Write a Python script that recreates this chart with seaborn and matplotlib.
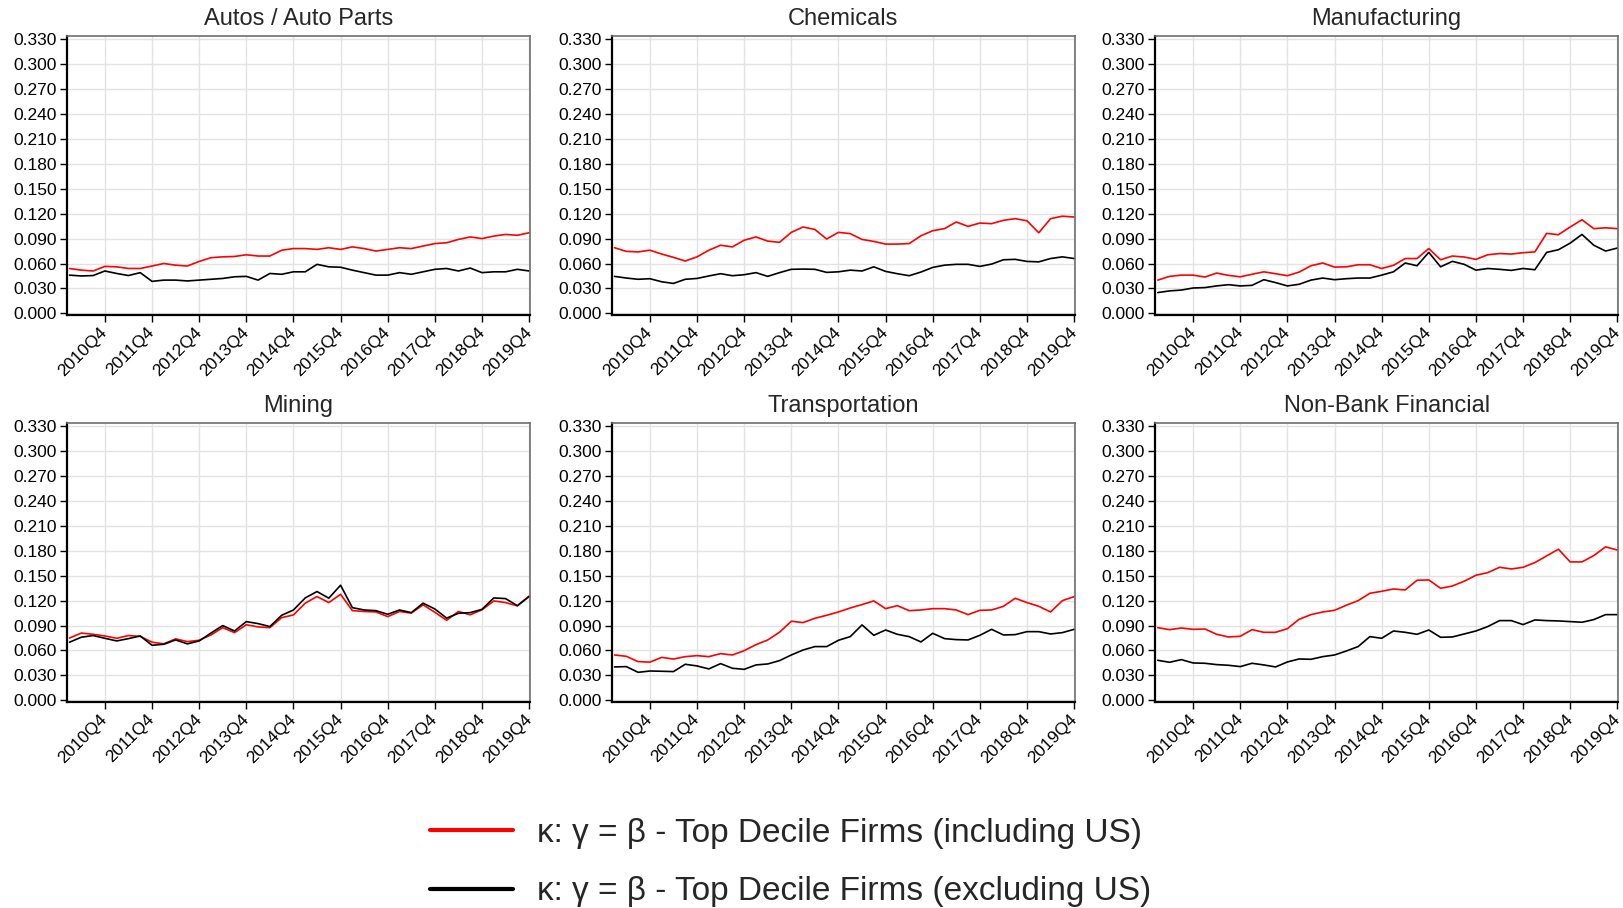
# Importing libraries
import pandas as pd
import matplotlib
matplotlib.use("Agg")
import matplotlib.pyplot as plt
from matplotlib.lines import Line2D
import seaborn as sns

# Quarters and tick labels
quarters = list(pd.period_range("2010Q1", "2019Q4", freq="Q").astype(str))
tick_labels = ["2010Q4", "2011Q4", "2012Q4", "2013Q4", "2014Q4",
               "2015Q4", "2016Q4", "2017Q4", "2018Q4", "2019Q4"]
y_ticks = [0.000, 0.030, 0.060, 0.090, 0.120, 0.150, 0.180, 0.210, 0.240, 0.270, 0.300, 0.330]

sectors = ["Autos / Auto Parts", "Chemicals", "Manufacturing",
           "Mining", "Transportation", "Non-Bank Financial"]
series_names = ["κ: γ = β - Top Decile Firms (including US)",
                "κ: γ = β - Top Decile Firms (excluding US)"]

# Values (including US = red, excluding US = black)
autos_incl = [0.054, 0.052, 0.051, 0.0565, 0.056, 0.054, 0.054, 0.057, 0.060, 0.058,
              0.057, 0.0625, 0.067, 0.068, 0.0685, 0.0705, 0.069, 0.069, 0.076, 0.078,
              0.078, 0.077, 0.079, 0.077, 0.080, 0.078, 0.075, 0.077, 0.079, 0.078,
              0.081, 0.084, 0.085, 0.089, 0.092, 0.090, 0.093, 0.095, 0.094, 0.097]
autos_excl = [0.046, 0.045, 0.0455, 0.051, 0.048, 0.0455, 0.049, 0.0385, 0.040, 0.040,
              0.039, 0.040, 0.041, 0.042, 0.044, 0.0445, 0.040, 0.048, 0.047, 0.050,
              0.050, 0.059, 0.056, 0.0555, 0.052, 0.049, 0.046, 0.046, 0.049, 0.047,
              0.050, 0.053, 0.054, 0.051, 0.0545, 0.049, 0.050, 0.050, 0.053, 0.051]

chem_incl = [0.079, 0.0746, 0.074, 0.076, 0.0714, 0.0674, 0.063, 0.068, 0.076, 0.082,
             0.080, 0.088, 0.092, 0.087, 0.0855, 0.0975, 0.104, 0.101, 0.0895, 0.0975,
             0.096, 0.089, 0.0866, 0.0834, 0.0834, 0.084, 0.0934, 0.0995, 0.102, 0.110,
             0.1047, 0.1087, 0.108, 0.112, 0.114, 0.1115, 0.097, 0.114, 0.117, 0.116]
chem_excl = [0.0445, 0.0425, 0.041, 0.0417, 0.038, 0.036, 0.041, 0.042, 0.045, 0.0477,
             0.0453, 0.0465, 0.049, 0.0445, 0.049, 0.053, 0.0533, 0.053, 0.0493, 0.050,
             0.052, 0.051, 0.056, 0.0505, 0.0477, 0.0453, 0.0497, 0.0553, 0.058, 0.059,
             0.059, 0.0565, 0.0593, 0.0645, 0.065, 0.0625, 0.062, 0.066, 0.068, 0.066]

manu_incl = [0.040, 0.0445, 0.046, 0.046, 0.0437, 0.0485, 0.0457, 0.044, 0.047, 0.050,
             0.0477, 0.0453, 0.0497, 0.0573, 0.0606, 0.0557, 0.056, 0.0585, 0.0585, 0.054,
             0.0578, 0.066, 0.066, 0.078, 0.0645, 0.069, 0.0678, 0.065, 0.0705, 0.072,
             0.0714, 0.073, 0.074, 0.0963, 0.0947, 0.104, 0.1127, 0.102, 0.103, 0.102]
manu_excl = [0.025, 0.027, 0.028, 0.0305, 0.031, 0.033, 0.0345, 0.033, 0.0337, 0.0405,
             0.037, 0.033, 0.035, 0.040, 0.0425, 0.0405, 0.0417, 0.0425, 0.0425, 0.046,
             0.050, 0.0606, 0.0573, 0.0734, 0.056, 0.0626, 0.059, 0.052, 0.054, 0.053,
             0.0517, 0.054, 0.0525, 0.0734, 0.0766, 0.0846, 0.095, 0.082, 0.075, 0.0786]

mining_incl = [0.075, 0.081, 0.0795, 0.0775, 0.0747, 0.078, 0.077, 0.070, 0.068, 0.074,
               0.0707, 0.0723, 0.0787, 0.0875, 0.0815, 0.091, 0.0884, 0.0875, 0.0996, 0.1028,
               0.117, 0.125, 0.1177, 0.1277, 0.108, 0.107, 0.1064, 0.1008, 0.107, 0.105,
               0.115, 0.106, 0.0964, 0.107, 0.103, 0.109, 0.1197, 0.1177, 0.1137, 0.1257]
mining_excl = [0.070, 0.076, 0.078, 0.0747, 0.0715, 0.0743, 0.0775, 0.0663, 0.0675, 0.0727,
               0.068, 0.0715, 0.081, 0.090, 0.0835, 0.0948, 0.0924, 0.0888, 0.1024, 0.1088,
               0.1233, 0.131, 0.123, 0.1386, 0.1116, 0.1088, 0.108, 0.1036, 0.1088, 0.1056,
               0.117, 0.110, 0.099, 0.1048, 0.1056, 0.1096, 0.1233, 0.1225, 0.114, 0.1249]

trans_incl = [0.0546, 0.053, 0.0466, 0.046, 0.0517, 0.0497, 0.0526, 0.0538, 0.0526, 0.0562,
              0.0546, 0.0598, 0.067, 0.0727, 0.082, 0.0952, 0.0936, 0.0988, 0.1024, 0.1064,
              0.1112, 0.1153, 0.1197, 0.1104, 0.114, 0.108, 0.1088, 0.1104, 0.1104, 0.1088,
              0.1032, 0.1084, 0.1088, 0.1132, 0.1229, 0.1177, 0.1132, 0.1064, 0.120, 0.1249]
trans_excl = [0.0402, 0.0406, 0.0337, 0.0353, 0.035, 0.0346, 0.0434, 0.0414, 0.0378, 0.0442,
              0.0386, 0.0373, 0.0426, 0.0438, 0.0478, 0.0546, 0.0606, 0.0647, 0.0647, 0.0723,
              0.0767, 0.0908, 0.0783, 0.0847, 0.0795, 0.0767, 0.0703, 0.0807, 0.0743, 0.0731,
              0.0727, 0.0783, 0.0855, 0.0787, 0.0791, 0.0827, 0.0827, 0.0799, 0.0815, 0.0855]

nbf_incl = [0.0875, 0.0851, 0.0871, 0.0855, 0.0859, 0.0795, 0.0763, 0.0771, 0.0851, 0.0819,
            0.0819, 0.0863, 0.0976, 0.1032, 0.1064, 0.1084, 0.1145, 0.120, 0.1289, 0.1313,
            0.1341, 0.1329, 0.1446, 0.145, 0.1349, 0.1377, 0.1434, 0.1506, 0.1538, 0.1602,
            0.1582, 0.1602, 0.1659, 0.1739, 0.182, 0.1667, 0.1667, 0.1743, 0.1848, 0.181]
nbf_excl = [0.0482, 0.0458, 0.049, 0.045, 0.0446, 0.043, 0.0422, 0.0406, 0.0446, 0.0426,
            0.0402, 0.0462, 0.0498, 0.0494, 0.0526, 0.0546, 0.0594, 0.0647, 0.0767, 0.0747,
            0.0835, 0.0819, 0.0795, 0.0847, 0.0759, 0.0763, 0.0799, 0.0835, 0.0888, 0.096,
            0.096, 0.0912, 0.0968, 0.096, 0.0956, 0.0948, 0.094, 0.0972, 0.1032, 0.1032]


def build_frame():
    """
    Put all sectors and both series in one long DataFrame.
    """
    values = {
        sectors[0]: (autos_incl, autos_excl),
        sectors[1]: (chem_incl, chem_excl),
        sectors[2]: (manu_incl, manu_excl),
        sectors[3]: (mining_incl, mining_excl),
        sectors[4]: (trans_incl, trans_excl),
        sectors[5]: (nbf_incl, nbf_excl),
    }
    rows = []
    for sector, (incl, excl) in values.items():
        for name, vals in zip(series_names, (incl, excl)):
            for q, v in zip(quarters, vals):
                rows.append({"sector": sector, "series": name,
                             "quarter": q, "t": quarters.index(q), "value": v})
    return pd.DataFrame(rows)


def style_axis(ax, title):
    """
    Ticks, grid and spines like the original panels.
    """
    ax.set_title(title, fontsize=17, pad=8)
    ax.set_xlim(-0.24, 39.08)
    ax.set_ylim(-0.002, 0.3335)
    ax.set_yticks(y_ticks)
    ax.set_yticklabels([f"{v:.3f}" for v in y_ticks], fontsize=12.5)
    ax.set_xticks([quarters.index(lbl) for lbl in tick_labels])
    ax.set_xticklabels(tick_labels, fontsize=12.5, rotation=45,
                       ha="right", va="center", rotation_mode="anchor")
    ax.set_xlabel("")
    ax.set_ylabel("")
    ax.grid(True, color="#e3e3e3", linewidth=1.0)
    ax.tick_params(axis="both", direction="out", length=5, width=1,
                   color="black", labelcolor="black", pad=2,
                   bottom=True, left=True)
    ax.tick_params(axis="x", pad=6)
    for side in ["left", "bottom"]:
        ax.spines[side].set_color("black")
        ax.spines[side].set_linewidth(1.6)
    for side in ["top", "right"]:
        ax.spines[side].set_color("#6e6e6e")
        ax.spines[side].set_linewidth(1.2)


def main():
    data = build_frame()

    sns.set_theme(style="whitegrid")
    plt.rcParams["font.family"] = ["Liberation Sans", "DejaVu Sans"]

    fig = plt.figure(figsize=(16.23, 9.08), dpi=100)
    lefts = [0.0411, 0.3769, 0.7116]
    bottoms = [0.6531, 0.2269]
    width, height = 0.2855, 0.3068
    palette = {series_names[0]: "#ff0000", series_names[1]: "#000000"}

    for i, sector in enumerate(sectors):
        ax = fig.add_axes([lefts[i % 3], bottoms[i // 3], width, height])
        sub = data[data["sector"] == sector]
        sns.lineplot(data=sub, x="t", y="value", hue="series",
                     palette=palette, linewidth=1.2, ax=ax, legend=False)
        style_axis(ax, sector)

    # Legend below the panels
    handles = [Line2D([0], [0], color=palette[n], linewidth=3) for n in series_names]
    fig.legend(handles, series_names, loc="center", bbox_to_anchor=(0.487, 0.050),
               frameon=False, fontsize=24, handlelength=2.5, handletextpad=0.7,
               labelspacing=0.83)

    fig.savefig("out.png", dpi=100)


# Entry point of the script
if __name__ == "__main__":
    main()
